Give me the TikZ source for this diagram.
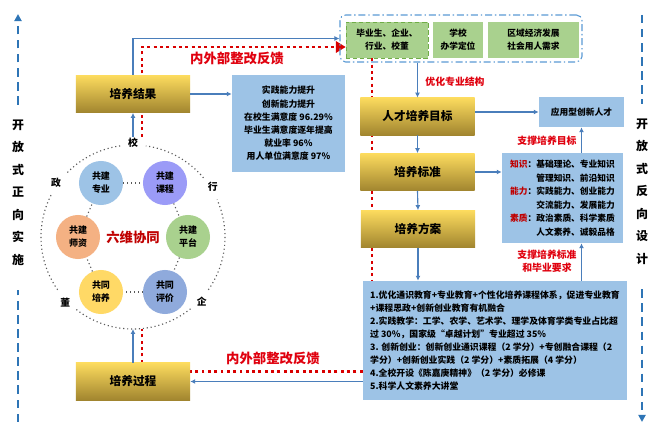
\documentclass[tikz,border=0pt]{standalone}
\usepackage{fontspec}
\setmainfont{Noto Sans CJK SC}
\usetikzlibrary{arrows.meta}
\usetikzlibrary{backgrounds}
\definecolor{goldtop}{HTML}{FCDB5E}
\definecolor{goldbot}{HTML}{A1852F}
\definecolor{paleblue}{HTML}{9DC3E6}
\definecolor{leafgreen}{HTML}{A9D18E}
\definecolor{leafedge}{HTML}{70AD47}
\definecolor{frameblue}{HTML}{5B9BD5}
\definecolor{linkblue}{HTML}{4A7EBB}
\definecolor{sideblue}{HTML}{2E75B6}
\definecolor{fbred}{HTML}{D90000}
\definecolor{tagred}{HTML}{E0000E}
\definecolor{darkred}{HTML}{C00000}
\definecolor{petalzy}{HTML}{9DC3E6}
\definecolor{petalkc}{HTML}{9B9BF7}
\definecolor{petalpt}{HTML}{A9D18E}
\definecolor{petalpj}{HTML}{8FAADC}
\definecolor{petalpy}{HTML}{FFD966}
\definecolor{petalsz}{HTML}{F4B183}

\begin{document}
\begin{tikzpicture}[x=0.025cm,y=-0.025cm,
goldbox/.style={top color=goldtop,bottom color=goldbot,minimum width=2.85cm,minimum height=0.93cm,font=\fontsize{8.3pt}{10pt}\selectfont\bfseries},
infobox/.style={fill=paleblue,align=center,inner sep=0pt},
greenbox/.style={fill=leafgreen,align=center,minimum height=0.9cm,inner sep=0pt,font=\fontsize{6.2pt}{9.3pt}\selectfont\bfseries},
petal/.style={circle,minimum size=1.1cm,inner sep=0pt,align=center,font=\fontsize{6.4pt}{9.3pt}\selectfont\bfseries},
link/.style={draw=linkblue,line width=0.8pt,-{Latex[length=3.5pt,width=3.5pt]}},
feedback/.style={draw=fbred,line width=2.1pt,dash pattern=on 2.1pt off 2.4pt},
ringline/.style={draw=black!65,line width=0.8pt,dotted},
sidearrow/.style={draw=sideblue,line width=1.4pt,dash pattern=on 6pt off 4pt},
sidetext/.style={align=center,font=\fontsize{8.5pt}{16pt}\selectfont\bfseries},
redtag/.style={text=tagred,align=center,font=\fontsize{7pt}{9.3pt}\selectfont\bfseries},
bigtag/.style={text=tagred,font=\fontsize{9.5pt}{11pt}\selectfont\bfseries}
]
\useasboundingbox (0,0) rectangle (654,433);

% side labels
\node[sidetext] (fwd) at (18,192.5) {开\\放\\式\\正\\向\\实\\施};
\node[sidetext] (bwd) at (642,191.5) {开\\放\\式\\反\\向\\设\\计};
\coordinate (fwdtop) at (18,14);
\coordinate (fwdbot) at (18,422);
\coordinate (bwdtop) at (642,15);
\coordinate (bwdbot) at (642,422);
\draw[sidearrow,-{Triangle[length=5pt,width=5pt]}] ([yshift=0.25cm]fwd.north) -- (fwdtop);
\draw[sidearrow] (fwdbot) -- ([yshift=-0.5cm]fwd.south);
\draw[sidearrow] (bwdtop) -- ([yshift=0.25cm]bwd.north);
\draw[sidearrow,-{Triangle[length=5pt,width=5pt]}] ([yshift=-0.5cm]bwd.south) -- (bwdbot);

% six petals
\coordinate (hub) at (133,237);
\coordinate (ringbot) at ([shift={(-90:2.3cm)}]hub);
\foreach \a/\b in {40/82,98/137,153/216,-128/-51,-35/24}
  \draw[ringline] ([shift={(\a:2.3cm)}]hub) arc[start angle=\a,end angle=\b,radius=2.3cm];
\foreach \ang/\txt/\nm in {90/校/xiao,32/行/hang,-43/企/qi,-136/董/dong,145/政/zheng}
  \node[font=\fontsize{7pt}{8pt}\selectfont\bfseries,inner sep=1pt] (\nm) at ([shift={(\ang:2.35cm)}]hub) {\txt};
\node[petal,fill=petalzy] (zy) at (101,183) {共建\\专业};
\node[petal,fill=petalkc] (kc) at (165,183) {共建\\课程};
\node[petal,fill=petalpt] (pt) at (188,237) {共建\\平台};
\node[petal,fill=petalpj] (pj) at (165,292) {共同\\评价};
\node[petal,fill=petalpy] (py) at (101,292) {共同\\培养};
\node[petal,fill=petalsz] (sz) at (78,237) {共建\\师资};
\foreach \a/\b in {zy/kc,kc/pt,pt/pj,pj/py,py/sz,sz/zy}
  \draw[ringline] (\a) -- (\b);
\node[text=darkred,font=\fontsize{9.5pt}{11pt}\selectfont\bfseries] (synergy) at (hub) {六维协同};

% boxes
\node[goldbox] (result) at (133,94) {培养结果};
\node[infobox,minimum width=2.825cm,minimum height=2.425cm,font=\fontsize{6.3pt}{9.4pt}\selectfont\bfseries] (gains) at (288.5,123.5) {实践能力提升\\创新能力提升\\在校生满意度 96.29\%\\毕业生满意度逐年提高\\就业率 96\%\\用人单位满意度 97\%};
\node[draw=frameblue,line width=0.8pt,dash pattern=on 5pt off 2pt on 1pt off 2pt,rounded corners=4pt,minimum width=6.05cm,minimum height=1.175cm] (stake) at (461,38.5) {};
\node[greenbox,minimum width=2.05cm,draw=leafedge,densely dashed] (grad) at (387,40) {毕业生、企业、\\行业、校董};
\node[greenbox,minimum width=1.25cm] (school) at (458,40) {学校\\办学定位};
\node[greenbox,minimum width=2.275cm] (region) at (533.5,40) {区域经济发展\\社会用人需求};
\node[goldbox] (goal) at (417.5,116.5) {人才培养目标};
\node[infobox,minimum width=2.125cm,minimum height=0.75cm,font=\fontsize{6.2pt}{8pt}\selectfont\bfseries] (talent) at (581.5,112) {应用型创新人才};
\node[goldbox] (standard) at (417.5,172) {培养标准};
\node[infobox,minimum width=3.025cm,minimum height=2.25cm,align=left,font=\fontsize{6.2pt}{9.6pt}\selectfont\bfseries] (quality) at (562.5,198) {\textcolor{darkred}{知识}：基础理论、专业知识\\
\phantom{知识：}管理知识、前沿知识\\
\textcolor{darkred}{能力}：实践能力、创业能力\\
\phantom{能力：}交流能力、发展能力\\
\textcolor{darkred}{素质}：政治素质、科学素质\\
\phantom{素质：}人文素养、诚毅品格};
\node[goldbox] (plan) at (418,229) {培养方案};
\node[infobox,minimum width=6.6cm,minimum height=2.975cm,align=left,font=\fontsize{6.3pt}{9.2pt}\selectfont\bfseries] (measures) at (495,340.5) {1.优化通识教育+专业教育+个性化培养课程体系，促进专业教育\\
+课程思政+创新创业教育有机融合\\
2.实践教学：工学、农学、艺术学、理学及体育学类专业占比超\\
过 30\%，国家级“卓越计划”专业超过 35\%\\
3. 创新创业：创新创业通识课程（2 学分）+专创融合课程（2\\
学分）+创新创业实践（2 学分）+素质拓展（4 学分）\\
4.全校开设《陈嘉庚精神》（2 学分）必修课\\
5.科学人文素养大讲堂};
\node[goldbox] (process) at (133,381.5) {培养过程};

% red tags
\node[bigtag] (fbtop) at (237,58) {内外部整改反馈};
\node[bigtag] (fbbot) at (273,358) {内外部整改反馈};
\node[redtag] (optimize) at (455,82) {优化专业结构};
\node[redtag] (supgoal) at (547,141) {支撑培养目标};
\node[redtag] (supstd) at (547,261.5) {支撑培养标准\\和毕业要求};

% connectors
\draw[link] (result.east) -- (result.east -| gains.west);
\draw[link] (result.north) |- (stake.west);
\draw[link] (xiao.north) -- (result.south);
\draw[link] (process.north) -- (ringbot);
\draw[link] (goal.north |- stake.south) -- (goal.north);
\draw[link] (goal.east |- talent.west) -- (talent.west);
\draw[link] (goal.south) -- (standard.north);
\draw[link] (standard.east) -- (standard.east -| quality.west);
\draw[link] (standard.south) -- (plan.north);
\draw[link] (plan.south) -- (plan.south |- measures.north);
\draw[link] (talent.south |- measures.north) -- (talent.south |- quality.south);
\draw[link] (talent.south |- quality.north) -- (talent.south);
\draw[link] (measures.west |- process.east) -- (process.east);

% feedback loop
\begin{scope}[on background layer]
\fill[white] (0,0) rectangle (654,433);
\draw[feedback,-{Triangle[length=7pt,width=8pt]}] ([xshift=0.225cm]xiao.north) |- ([yshift=-0.175cm]grad.west);
\draw[feedback] ([xshift=-0.375cm]grad.south) -- ([xshift=-0.375cm]grad.south |- measures.north);
\draw[feedback] ([yshift=0.25cm]measures.west |- process.east) -- ([yshift=0.25cm]process.east);
\draw[feedback] ([xshift=0.225cm]process.north) -- ([xshift=0.225cm]ringbot);
\end{scope}

\end{tikzpicture}
\end{document}
